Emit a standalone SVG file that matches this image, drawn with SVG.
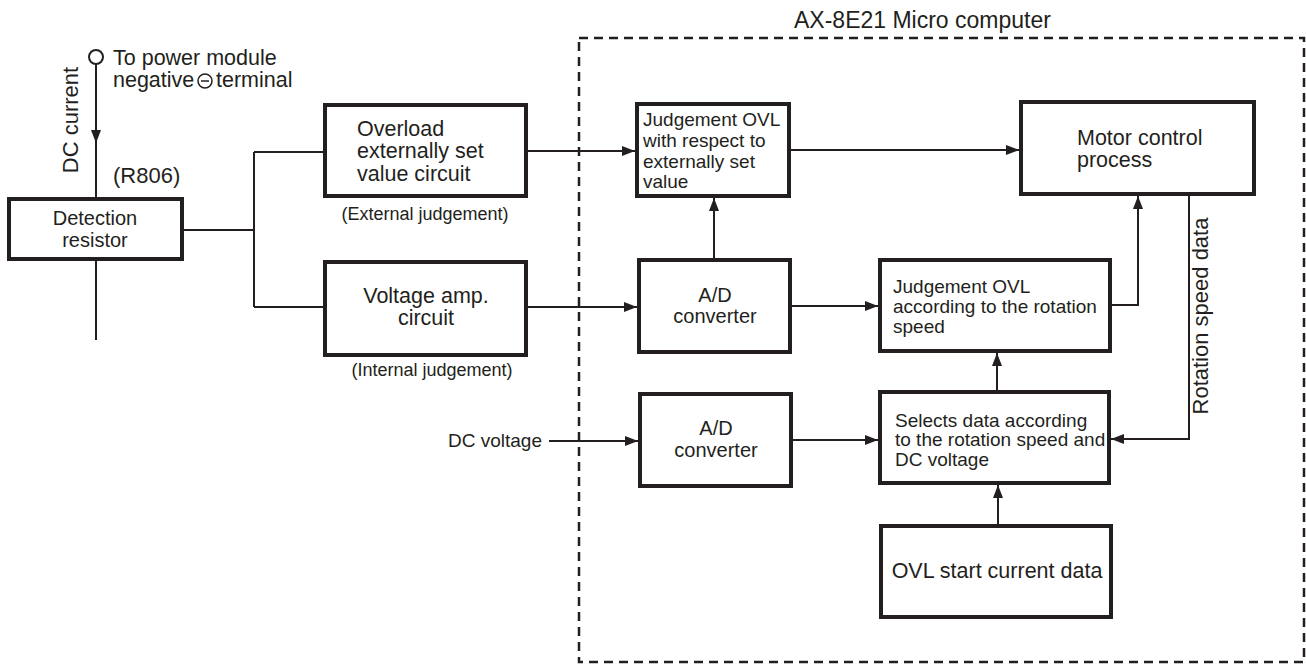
<svg xmlns="http://www.w3.org/2000/svg" width="1306" height="664" viewBox="0 0 1306 664">
<style>
text{font-family:"Liberation Sans",Arial,sans-serif;fill:#231f20}
.box{fill:#fff;stroke:#231f20;stroke-width:4}
.ln{fill:none;stroke:#231f20;stroke-width:2}
.arr{fill:none;stroke:#231f20;stroke-width:2;marker-end:url(#ah)}
.t19{font-size:19px}
.t20{font-size:20px}
.t21{font-size:21.5px}
.t22{font-size:22px}
.t18{font-size:18px}
.mid{text-anchor:middle}
</style>
<defs>
<marker id="ah" markerUnits="userSpaceOnUse" markerWidth="14" markerHeight="10" refX="13" refY="5" orient="auto">
<path d="M0,0 L13,5 L0,10 z" fill="#231f20"/>
</marker>
</defs>
<rect width="1306" height="664" fill="#fff"/>

<g id="micro-boundary">
<rect x="579" y="38" width="725" height="624" fill="none" stroke="#231f20" stroke-width="2.5" stroke-dasharray="9 6"/>
<text x="794" y="28" style="font-size:23px">AX-8E21 Micro computer</text>
</g>

<g id="connectors">
<circle cx="96" cy="57" r="7" class="ln"/>
<path class="arr" d="M96,64 V143"/>
<path class="ln" d="M96,143 V197"/>
<path class="ln" d="M96,261 V340"/>
<path class="ln" d="M184,230 H254 M254,152 V307 M254,152 H323 M254,307 H323"/>
<path class="arr" d="M528,151 H635"/>
<path class="arr" d="M791,150 H1019"/>
<path class="arr" d="M714,258 V198"/>
<path class="arr" d="M528,307 H637"/>
<path class="arr" d="M792,306 H878"/>
<path class="arr" d="M1112,305 H1138 V196"/>
<path class="arr" d="M1189,196 V439 H1111"/>
<path class="arr" d="M549,441 H638"/>
<path class="arr" d="M793,440 H878"/>
<path class="arr" d="M997,390 V353"/>
<path class="arr" d="M998,524 V485"/>
</g>

<g id="power-label">
<text class="t21" x="113" y="65">To power module</text>
<text class="t21" x="113" y="87">negative</text>
<circle cx="205" cy="81" r="7" fill="none" stroke="#231f20" stroke-width="1.5"/>
<path d="M201,81 H209" stroke="#231f20" stroke-width="1.5"/>
<text class="t21" x="216" y="87">terminal</text>
<text class="t22 mid" transform="translate(78,120) rotate(-90)">DC current</text>
<text class="t22" x="113" y="183">(R806)</text>
</g>

<g id="detection-resistor">
<rect class="box" x="9" y="199" width="173" height="60"/>
<text class="t20 mid" x="95" y="225">Detection</text>
<text class="t20 mid" x="95" y="247">resistor</text>
</g>

<g id="overload-circuit">
<rect class="box" x="325" y="105" width="201" height="91"/>
<text class="t21" x="357" y="136">Overload</text>
<text class="t21" x="357" y="158">externally set</text>
<text class="t21" x="357" y="181">value circuit</text>
<text class="t18 mid" x="425" y="220">(External judgement)</text>
</g>

<g id="voltage-amp">
<rect class="box" x="325" y="262" width="201" height="93"/>
<text class="t21 mid" x="426" y="303">Voltage amp.</text>
<text class="t21 mid" x="426" y="325">circuit</text>
<text class="t18 mid" x="432" y="376">(Internal judgement)</text>
</g>

<g id="judgement-ext">
<rect class="box" x="637" y="104" width="152" height="92"/>
<text class="t19" x="643" y="126">Judgement OVL</text>
<text class="t19" x="643" y="147">with respect to</text>
<text class="t19" x="643" y="168">externally set</text>
<text class="t19" x="643" y="188">value</text>
</g>

<g id="motor-control">
<rect class="box" x="1021" y="102" width="233" height="92"/>
<text class="t21" x="1077" y="145">Motor control</text>
<text class="t21" x="1077" y="167">process</text>
</g>

<g id="rotation-label">
<text class="t22 mid" transform="translate(1208,316) rotate(-90)">Rotation speed data</text>
</g>

<g id="ad-converter-1">
<rect class="box" x="639" y="260" width="151" height="92"/>
<text class="t20 mid" x="715" y="302">A/D</text>
<text class="t20 mid" x="715" y="323">converter</text>
</g>

<g id="judgement-rotation">
<rect class="box" x="880" y="260" width="230" height="91"/>
<text class="t19" x="893" y="293">Judgement OVL</text>
<text class="t19" x="893" y="313">according to the rotation</text>
<text class="t19" x="893" y="333">speed</text>
</g>

<g id="dc-voltage">
<text class="t19" x="448" y="447">DC voltage</text>
</g>

<g id="ad-converter-2">
<rect class="box" x="640" y="394" width="151" height="92"/>
<text class="t20 mid" x="716" y="435">A/D</text>
<text class="t20 mid" x="716" y="457">converter</text>
</g>

<g id="selects-data">
<rect class="box" x="880" y="392" width="229" height="91"/>
<text class="t19" x="895" y="427">Selects data according</text>
<text class="t19" x="895" y="446">to the rotation speed and</text>
<text class="t19" x="895" y="466">DC voltage</text>
</g>

<g id="ovl-start">
<rect class="box" x="881" y="526" width="230" height="91"/>
<text class="t21 mid" x="997" y="578">OVL start current data</text>
</g>
</svg>
